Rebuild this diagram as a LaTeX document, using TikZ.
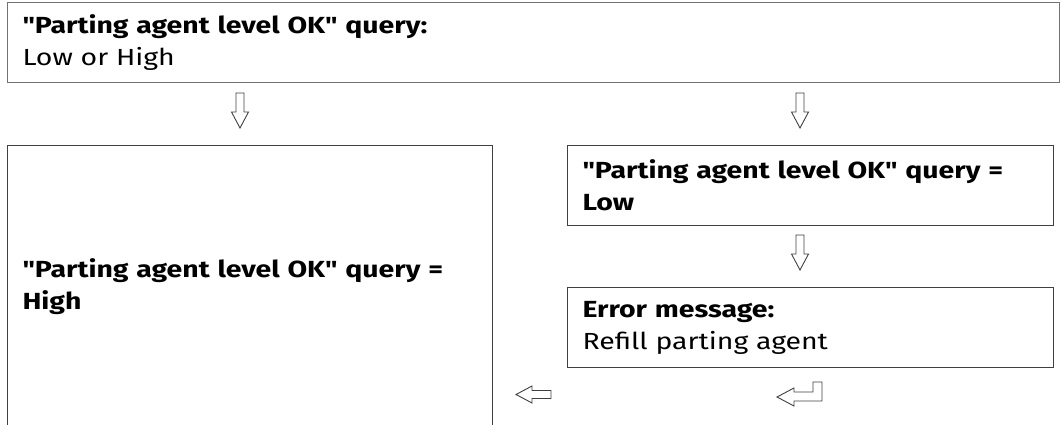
\documentclass[tikz,border=0pt]{standalone}
\usepackage{fontspec}
\setmainfont[Ligatures=TeXOff, FakeStretch=1.22]{Fira Sans}
\usepackage{tikz}
\usetikzlibrary{positioning}

\tikzset{
  box/.style={draw=black!75, line width=1pt, anchor=north west, align=left,
              inner xsep=15pt, inner ysep=0pt,
              font=\fontsize{23.3}{32}\selectfont},
  arrline/.style={draw=black!75, line width=0.9pt, line join=miter},
  downarrow/.pic={\draw[arrline] (-4,0) -- (-4,19) -- (-8.5,19) -- (0,35)
                  -- (8.5,19) -- (4,19) -- (4,0) -- cycle;},
  leftarrow/.pic={\draw[arrline] (0,0) -- (16,-8.5) -- (16,-4) -- (35,-4)
                  -- (35,4) -- (16,4) -- (16,8.5) -- cycle;},
  returnarrow/.pic={\draw[arrline] (0,0) -- (17,-9) -- (17,-5) -- (36,-5)
                  -- (36,-15) -- (45,-15) -- (45,4) -- (17,4) -- (17,9) -- cycle;},
}

\begin{document}
\begin{tikzpicture}[x=1pt, y=-1pt]
                \useasboundingbox (0,0) rectangle (1060,425);
                % boxes
                \node[box, draw=black!55, minimum width=1052pt, minimum height=80pt, text width=1022pt]
                    (query) at (7,2) {\textbf{"Parting agent level OK" query:}\\Low or High};
                \node[box, minimum width=485pt, minimum height=283pt, text width=455pt]
                    (high) at (7,145) {\textbf{"Parting agent level OK" query =}\\\textbf{High}};
                \node[box, minimum width=486pt, minimum height=80pt, text width=456pt]
                    (low) at (567,145) {\textbf{"Parting agent level OK" query =}\\\textbf{Low}};
                \node[box, minimum width=486pt, minimum height=80pt, text width=456pt]
                    (error) at (567,287) {\textbf{Error message:}\\Refill parting agent};
                % arrows
                \pic (toHigh) at (240,93) {downarrow};
                \pic (toLow) at (800,93) {downarrow};
                \pic (toError) at (800,235) {downarrow};
                \pic (back) at (777,397) {returnarrow};
                \pic (left) at (516,394.5) {leftarrow};
            \end{tikzpicture}
\end{document}
